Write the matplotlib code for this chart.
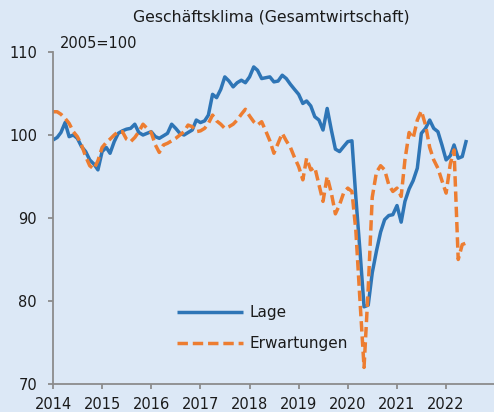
import numpy as np
import pandas as pd
import matplotlib; matplotlib.use("Agg")
import matplotlib.pyplot as plt
import matplotlib.dates as mdates

# monthly values, Jan 2014 .. Jun 2022 (2005=100)
lage = [
    99.4, 99.7, 100.3, 101.5, 99.8, 100.0, 99.6, 98.6, 98.0, 97.0, 96.5, 95.8,      # 2014
    98.0, 98.5, 97.8, 99.2, 100.2, 100.5, 100.7, 100.8, 101.3, 100.3, 100.0, 100.2, # 2015
    100.4, 99.8, 99.6, 99.9, 100.2, 101.3, 100.8, 100.2, 100.0, 100.3, 100.6, 101.8,# 2016
    101.5, 101.7, 102.4, 104.9, 104.5, 105.5, 107.0, 106.5, 105.8, 106.3, 106.6, 106.3, # 2017
    107.0, 108.2, 107.8, 106.8, 106.9, 107.0, 106.4, 106.5, 107.2, 106.8, 106.1, 105.5, # 2018
    104.9, 103.8, 104.1, 103.5, 102.2, 101.8, 100.6, 103.2, 100.6, 98.3, 98.0, 98.6,  # 2019
    99.2, 99.3, 92.5, 86.0, 79.3, 79.5, 83.4, 86.0, 88.3, 89.8, 90.3, 90.4,          # 2020
    91.5, 89.5, 92.0, 93.5, 94.5, 96.0, 100.2, 100.8, 101.8, 100.8, 100.4, 98.8,      # 2021
    97.0, 97.5, 98.8, 97.2, 97.4, 99.4,                                              # 2022
]
erwartungen = [
    102.8, 102.8, 102.5, 102.0, 101.4, 100.4, 99.8, 98.8, 97.4, 96.3, 95.9, 96.9,   # 2014
    98.5, 99.1, 99.5, 100.0, 100.4, 100.4, 99.5, 99.2, 99.7, 100.4, 101.3, 100.8,   # 2015
    100.3, 98.8, 97.9, 98.8, 99.0, 99.3, 99.6, 100.0, 100.4, 101.2, 101.0, 100.4,   # 2016
    100.5, 100.8, 101.4, 102.4, 101.7, 101.3, 100.8, 101.0, 101.3, 101.8, 102.5, 103.1, # 2017
    102.3, 101.6, 101.2, 101.6, 100.5, 99.3, 97.8, 99.0, 100.2, 99.3, 98.5, 97.3,   # 2018
    96.2, 94.6, 97.2, 95.8, 96.1, 94.0, 92.0, 95.0, 93.0, 90.5, 91.6, 93.0,         # 2019
    93.6, 93.2, 88.5, 80.0, 72.0, 81.5, 92.5, 95.5, 96.3, 95.8, 94.0, 93.2,         # 2020
    93.6, 92.6, 97.0, 100.3, 99.6, 101.8, 102.9, 101.2, 98.5, 97.0, 96.0, 94.5,     # 2021
    93.0, 96.5, 98.2, 85.0, 86.8, 87.0,                                             # 2022
]
years = list(range(2014, 2023))
y_ticks = [70, 80, 90, 100, 110]

BG = "#DCE8F6"; BLUE = "#2E75B6"; ORANGE = "#ED7D31"; AXC = "#8C8C8C"; TXT = "#1A1A1A"

months = pd.date_range("2014-01-01", periods=len(lage), freq="MS")

fig = plt.figure(figsize=(4.94, 4.12), dpi=100, facecolor=BG)
ax = fig.add_axes([53 / 494, 28 / 412, 441 / 494, 332 / 412], facecolor=BG)

ax.plot(months, lage, color=BLUE, lw=2.5, label="Lage", solid_capstyle="butt")
ax.plot(months, erwartungen, color=ORANGE, lw=2.5, dashes=(3.0, 1.4), label="Erwartungen")

ax.set_ylim(70, 110)
ax.set_yticks(y_ticks)
ax.set_xlim(pd.Timestamp("2014-01-01"), pd.Timestamp("2022-12-23"))
ax.set_xticks([pd.Timestamp(f"{y}-01-01") for y in years])
ax.xaxis.set_major_formatter(mdates.DateFormatter("%Y"))

for s in ("top", "right"):
    ax.spines[s].set_visible(False)
for s in ("left", "bottom"):
    ax.spines[s].set_color(AXC); ax.spines[s].set_linewidth(1.3)
ax.tick_params(axis="both", colors=AXC, labelcolor=TXT, labelsize=10.5, length=3.5, width=1.3)
ax.tick_params(axis="y", pad=8)
ax.tick_params(axis="x", pad=6)

fig.text(271 / 494, 1 - 17 / 412, "Geschäftsklima (Gesamtwirtschaft)", ha="center", va="center",
         fontsize=11.3, color=TXT)
fig.text(60 / 494, 1 - 43 / 412, "2005=100", ha="left", va="center", fontsize=10.5, color=TXT)

leg = ax.legend(loc="upper left", bbox_to_anchor=(177 / 494, 1 - 305 / 412), bbox_transform=fig.transFigure,
                frameon=False, fontsize=11, handlelength=4.3, handletextpad=0.45, labelspacing=1.05,
                borderpad=0, borderaxespad=0)
for t in leg.get_texts():
    t.set_color(TXT)

fig.savefig("out.png", dpi=100, facecolor=BG)
